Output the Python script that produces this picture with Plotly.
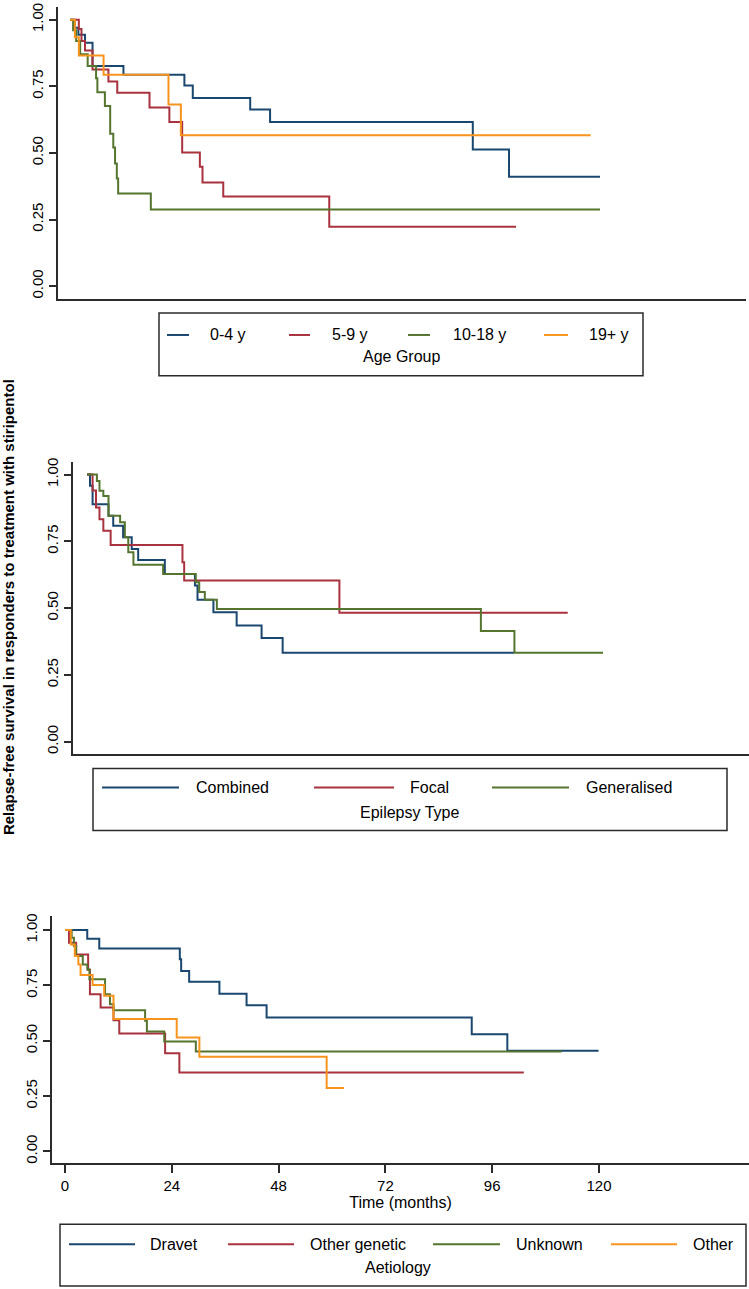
import plotly.graph_objects as go

W, H = 749, 1289

# ---------------- data (Kaplan-Meier step curves, months / survival) -------------
# Panel 1: Age group
age_groups = ["0-4 y", "5-9 y", "10-18 y", "19+ y"]
age_0_4_t = [0, 1.1, 1.9, 3.4, 5.1, 12.1, 25.9, 27.8, 40.8, 45.3, 91.2, 99.4, 120]
age_0_4_s = [1, 0.97, 0.943, 0.913, 0.826, 0.793, 0.753, 0.706, 0.663, 0.616, 0.513, 0.41, 0.41]
age_5_9_t = [0, 2.0, 2.6, 3.4, 5.1, 8.7, 10.7, 18.0, 22.5, 25.4, 29.4, 30.0, 34.7, 58.7, 101]
age_5_9_s = [1, 0.965, 0.92, 0.884, 0.813, 0.768, 0.726, 0.670, 0.616, 0.501, 0.448, 0.389, 0.336, 0.223, 0.223]
age_10_18_t = [0, 0.7, 1.4, 2.3, 4.0, 5.9, 6.2, 7.9, 9.1, 9.8, 10.2, 10.6, 10.9, 18.3, 120]
age_10_18_s = [1, 0.96, 0.92, 0.87, 0.826, 0.78, 0.728, 0.676, 0.572, 0.52, 0.46, 0.404, 0.348, 0.288, 0.288]
age_19_t = [0, 1.1, 2.0, 7.6, 22.3, 25.1, 117.9]
age_19_s = [1, 0.934, 0.865, 0.793, 0.682, 0.566, 0.566]

# Panel 2: Epilepsy type
epi_types = ["Combined", "Focal", "Generalised"]
combined_t = [0, 0.7, 1.3, 5.0, 6.1, 8.4, 10.4, 11.9, 18.1, 25.1, 25.7, 29.4, 34.8, 40.6, 45.5, 99.3]
combined_s = [1, 0.958, 0.889, 0.846, 0.808, 0.765, 0.721, 0.680, 0.628, 0.585, 0.531, 0.485, 0.435, 0.388, 0.333, 0.333]
focal_t = [0, 1.3, 2.1, 2.9, 3.8, 5.5, 22.2, 22.6, 58.7, 111.8]
focal_s = [1, 0.94, 0.877, 0.833, 0.79, 0.736, 0.672, 0.603, 0.483, 0.483]
general_t = [0, 2.3, 2.9, 3.8, 5.0, 7.7, 8.8, 9.6, 10.8, 17.7, 25.3, 26.1, 27.4, 30.2, 91.6, 99.4, 120]
general_s = [1, 0.976, 0.939, 0.920, 0.846, 0.821, 0.765, 0.709, 0.662, 0.628, 0.597, 0.560, 0.531, 0.497, 0.414, 0.333, 0.333]

# Panel 3: Aetiology
aet_groups = ["Dravet", "Other genetic", "Unknown", "Other"]
dravet_t = [0, 5.0, 7.7, 25.8, 26.1, 27.9, 34.7, 40.8, 45.3, 91.4, 99.4, 119.9]
dravet_s = [1, 0.961, 0.917, 0.868, 0.815, 0.767, 0.713, 0.661, 0.605, 0.530, 0.455, 0.455]
othgen_t = [0, 0.9, 2.5, 5.2, 5.6, 8.0, 10.9, 12.2, 22.5, 25.7, 103.1]
othgen_s = [1, 0.943, 0.89, 0.82, 0.71, 0.65, 0.593, 0.533, 0.444, 0.357, 0.357]
unknown_t = [0, 1.5, 2.0, 2.5, 4.0, 5.0, 5.5, 9.0, 10.1, 10.9, 18.0, 18.4, 22.3, 29.4, 111.6]
unknown_s = [1, 0.965, 0.928, 0.883, 0.845, 0.823, 0.778, 0.710, 0.665, 0.638, 0.590, 0.542, 0.497, 0.452, 0.452]
other_t = [0, 1.3, 2.2, 3.0, 3.5, 6.2, 8.8, 10.9, 25.1, 30.2, 58.8, 62.7]
other_s = [1, 0.935, 0.883, 0.845, 0.797, 0.752, 0.703, 0.598, 0.515, 0.428, 0.287, 0.287]

y_ticks = [0, 0.25, 0.5, 0.75, 1.0]
y_ticktext = ["0.00", "0.25", "0.50", "0.75", "1.00"]
x_ticks = [0, 24, 48, 72, 96, 120]
x_ticktext = ["0", "24", "48", "72", "96", "120"]

# ---------------- styling -------------
C_BLUE = "#1a476f"
C_RED = "#a8323e"
C_GREEN = "#55752f"
C_ORANGE = "#f7941d"
AX = "#2b2b2b"
TXT = "#000"
FONT = "Liberation Sans, Arial, sans-serif"

def fx(px):
    return px / W

def fy(py):
    return 1 - py / H

fig = go.Figure()

panels = [
    ("x", "y", [(age_0_4_t, age_0_4_s, C_BLUE, age_groups[0]),
                (age_5_9_t, age_5_9_s, C_RED, age_groups[1]),
                (age_10_18_t, age_10_18_s, C_GREEN, age_groups[2]),
                (age_19_t, age_19_s, C_ORANGE, age_groups[3])]),
    ("x2", "y2", [(combined_t, combined_s, C_BLUE, epi_types[0]),
                  (focal_t, focal_s, C_RED, epi_types[1]),
                  (general_t, general_s, C_GREEN, epi_types[2])]),
    ("x3", "y3", [(dravet_t, dravet_s, C_BLUE, aet_groups[0]),
                  (othgen_t, othgen_s, C_RED, aet_groups[1]),
                  (unknown_t, unknown_s, C_GREEN, aet_groups[2]),
                  (other_t, other_s, C_ORANGE, aet_groups[3])]),
]

for xa, ya, series in panels:
    for t, s, col, name in series:
        fig.add_trace(go.Scatter(x=t, y=s, mode="lines", line=dict(color=col, width=2, shape="hv"),
                                 name=name, xaxis=xa, yaxis=ya, showlegend=False,
                                 hoverinfo="skip"))

# panel geometry in pixels: (left, right, zero_px, px_at_120, top, bottom, y0_px, y1_px)
geo = [
    (58, 746, 70, 600, 3, 296, 283, 15.7),
    (73, 749, 87, 603, 459, 752, 740, 472),
    (52, 749, 65, 599, 915, 1163, 1151, 929),
]
layout = {}
for i, (L, R, Z, P, T, B, Y0, Y1) in enumerate(geo):
    s = (P - Z) / 120.0
    u = (Y0 - Y1)
    xr = [(L - Z) / s, (R - Z) / s]
    yr = [(Y0 - B) / u, (Y0 - T) / u]
    xk = "xaxis" if i == 0 else f"xaxis{i+1}"
    yk = "yaxis" if i == 0 else f"yaxis{i+1}"
    anchor_y = "y" if i == 0 else f"y{i+1}"
    anchor_x = "x" if i == 0 else f"x{i+1}"
    last = (i == 2)
    layout[xk] = dict(domain=[fx(L), fx(R)], range=xr, anchor=anchor_y,
                      showline=True, linecolor=AX, linewidth=2, showgrid=False, zeroline=False,
                      ticks="outside" if last else "", ticklen=8, tickwidth=1.5, tickcolor=AX,
                      tickvals=x_ticks if last else [], ticktext=x_ticktext if last else [],
                      showticklabels=last,
                      tickfont=dict(family=FONT, size=15, color=TXT),
                      title=dict(text="Time (months)" if last else "", standoff=3,
                                 font=dict(family=FONT, size=16, color=TXT)))
    layout[yk] = dict(domain=[fy(B), fy(T)], range=yr, anchor=anchor_x,
                      showline=True, linecolor=AX, linewidth=2, showgrid=False, zeroline=False,
                      ticks="outside", ticklen=7, tickwidth=1.5, tickcolor=AX,
                      tickvals=y_ticks, ticktext=y_ticktext, tickangle=-90,
                      tickfont=dict(family=FONT, size=15, color=TXT))

fig.update_layout(**layout)

shapes = []
annotations = []

def legend(box, row_y, title_y, title_x, items, title):
    x0, x1, y0, y1 = box
    shapes.append(dict(type="rect", xref="paper", yref="paper", x0=fx(x0), x1=fx(x1),
                       y0=fy(y1), y1=fy(y0), line=dict(color=AX, width=1.5),
                       fillcolor="rgba(0,0,0,0)"))
    for (lx0, lx1, tx, col, name) in items:
        shapes.append(dict(type="line", xref="paper", yref="paper", x0=fx(lx0), x1=fx(lx1),
                           y0=fy(row_y), y1=fy(row_y), line=dict(color=col, width=2)))
        annotations.append(dict(x=fx(tx), y=fy(row_y), xref="paper", yref="paper", text=name,
                                showarrow=False, xanchor="left", yanchor="middle",
                                font=dict(family=FONT, size=16, color=TXT)))
    annotations.append(dict(x=fx(title_x), y=fy(title_y), xref="paper", yref="paper", text=title,
                            showarrow=False, xanchor="center", yanchor="middle",
                            font=dict(family=FONT, size=16, color=TXT)))

legend((159, 643, 310, 373), 332, 354, 401,
       [(167, 189, 208, C_BLUE, age_groups[0]),
        (289, 310, 330, C_RED, age_groups[1]),
        (408, 430, 451, C_GREEN, age_groups[2]),
        (544, 568, 587, C_ORANGE, age_groups[3])], "Age Group")
legend((93, 727, 767, 829), 786, 811, 409,
       [(102, 179, 194, C_BLUE, epi_types[0]),
        (314, 394, 408, C_RED, epi_types[1]),
        (492, 569, 584, C_GREEN, epi_types[2])], "Epilepsy Type")
legend((60, 746, 1224, 1286), 1244, 1267, 398,
       [(69, 135, 148, C_BLUE, aet_groups[0]),
        (228, 294, 308, C_RED, aet_groups[1]),
        (433, 500, 514, C_GREEN, aet_groups[2]),
        (611, 677, 691, C_ORANGE, aet_groups[3])], "Aetiology")

annotations.append(dict(x=fx(8), y=fy(605), xref="paper", yref="paper",
                        text="<b>Relapse-free survival in responders to treatment with stiripentol</b>",
                        textangle=-90, showarrow=False, xanchor="center", yanchor="middle",
                        font=dict(family=FONT, size=15, color=TXT)))

fig.update_layout(width=W, height=H, margin=dict(l=0, r=0, t=0, b=0),
                  paper_bgcolor="white", plot_bgcolor="white",
                  shapes=shapes, annotations=annotations, showlegend=False)

fig.write_html("out.html", config={"displayModeBar": False},
               post_script="document.body.style.margin='0';document.body.style.overflow='hidden';")
